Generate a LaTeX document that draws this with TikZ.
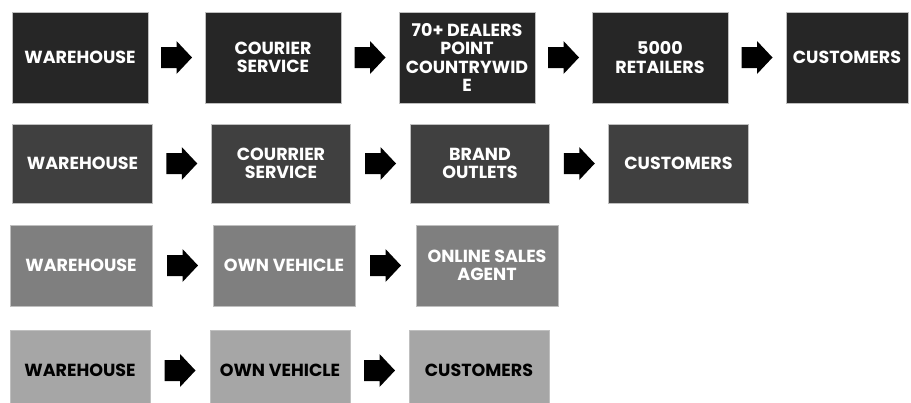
\documentclass[tikz,border=0pt]{standalone}
\usepackage{fontspec}
\setmainfont{Poppins}
\usetikzlibrary{calc}
\definecolor{rowa}{HTML}{262626}
\definecolor{rowb}{HTML}{404040}
\definecolor{rowc}{HTML}{7F7F7F}
\definecolor{rowd}{HTML}{A6A6A6}
\definecolor{edge}{HTML}{BFBFBF}
\begin{document}
\begin{tikzpicture}[x=1pt,y=-1pt,
		box/.style={draw=edge,line width=0.6pt,text=white,align=center,inner sep=0pt,font=\fontsize{17.5}{18.5}\selectfont\bfseries},
		rowone/.style={box,fill=rowa,minimum width=136pt,minimum height=91pt},
		rowtwo/.style={box,fill=rowb,minimum width=139.5pt,minimum height=79pt},
		rowthree/.style={box,fill=rowc,minimum width=142pt,minimum height=81pt},
		rowfour/.style={box,fill=rowd,text=black,minimum width=140pt,minimum height=81pt},
		blkarrow/.pic={\fill[black] (-15.5,-10.5) -- (0,-10.5) -- (0,-16.5) -- (15.5,0) -- (0,16.5) -- (0,10.5) -- (-15.5,10.5) -- cycle;}]
				\path[use as bounding box,clip] (0,0) rectangle (911,402);
				\node[rowone] (wa) at (80,57.5) {WAREHOUSE};
				\node[rowone] (coura) at (273,57.5) {COURIER\\SERVICE};
				\node[rowone] (deal) at (467,57.5) {70+ DEALERS\\POINT\\COUNTRYWID\\E};
				\node[rowone] (retail) at (660,57.5) {5000\\RETAILERS};
				\node[rowone,minimum width=122pt] (custa) at (847,57.5) {CUSTOMERS};
				\node[rowtwo] (wb) at (82.5,163.5) {WAREHOUSE};
				\node[rowtwo] (courb) at (281,163.5) {COURRIER\\SERVICE};
				\node[rowtwo] (brand) at (480,163.5) {BRAND\\OUTLETS};
				\node[rowtwo] (custb) at (678.5,163.5) {CUSTOMERS};
				\node[rowthree] (wc) at (81,265.5) {WAREHOUSE};
				\node[rowthree] (vehc) at (284,265.5) {OWN VEHICLE};
				\node[rowthree] (online) at (487,265.5) {ONLINE SALES\\AGENT};
				\node[rowfour] (wd) at (80,370.5) {WAREHOUSE};
				\node[rowfour] (vehd) at (280,370.5) {OWN VEHICLE};
				\node[rowfour] (custd) at (479,370.5) {CUSTOMERS};
				\foreach \a/\b in {wa/coura,coura/deal,deal/retail,retail/custa,wb/courb,courb/brand,brand/custb,wc/vehc,vehc/online,wd/vehd,vehd/custd}
					\pic at ($(\a.east)!0.5!(\b.west)$) {blkarrow};
			\end{tikzpicture}
\end{document}
